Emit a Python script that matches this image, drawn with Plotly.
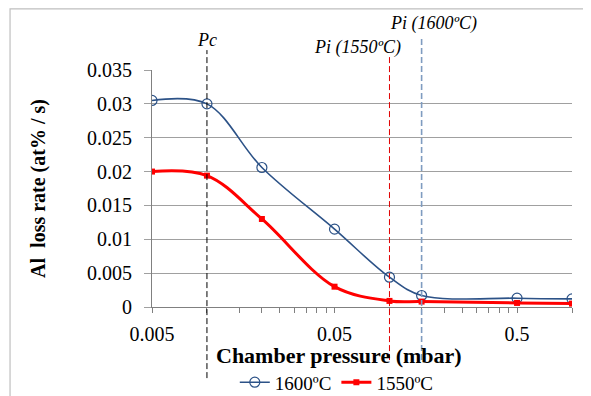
import plotly.graph_objects as go
import math

# Data
pressure = [0.005, 0.01, 0.02, 0.05, 0.1, 0.15, 0.5, 1.0]
rate_1600 = [0.0305, 0.0300, 0.0206, 0.0115, 0.0044, 0.0017, 0.0013, 0.0012]
rate_1550 = [0.0200, 0.0194, 0.0130, 0.0030, 0.0009, 0.0008, 0.0006, 0.0005]

x_tickvals = [0.005, 0.05, 0.5]
x_ticktext = ["0.005", "0.05", "0.5"]
x_minor = [0.005 * k for k in range(2, 10)] + [0.05 * k for k in range(2, 10)] + [0.5 * k for k in range(2, 3)]
y_tickvals = [0, 0.005, 0.01, 0.015, 0.02, 0.025, 0.03, 0.035]
y_ticktext = ["0", "0.005", "0.01", "0.015", "0.02", "0.025", "0.03", "0.035"]

p_c = 0.01
p_i_1550 = 0.1
p_i_1600 = 0.15

FONT = "Liberation Serif"
BLUE = "#2C5287"
RED = "#FF0000"

fig = go.Figure()
fig.add_trace(go.Scatter(
    x=pressure, y=rate_1600, name="1600ºC", mode="lines+markers",
    line=dict(color=BLUE, width=1.6, shape="spline", smoothing=1.0),
    marker=dict(symbol="circle-open", size=10, color=BLUE, line=dict(width=1.2)),
))
fig.add_trace(go.Scatter(
    x=pressure, y=rate_1550, name="1550ºC", mode="lines+markers",
    line=dict(color=RED, width=3, shape="spline", smoothing=1.0),
    marker=dict(symbol="square", size=6, color=RED),
))

# vertical reference lines
vlines = [(p_c, "black", 1.0, 1.084), (p_i_1550, "#E00000", 1.0, 1.055), (p_i_1600, "#7F9CC0", 1.6, 1.139)]
for xv, col, w, ytop in vlines:
    fig.add_shape(type="line", xref="x", yref="paper", x0=xv, x1=xv, y0=-0.30, y1=ytop,
                  line=dict(color=col, width=w, dash="6px,3px"), layer="above")

# outer border
fig.add_shape(type="rect", xref="paper", yref="paper", x0=-0.338, x1=1.1, y0=-0.45, y1=1.258,
              line=dict(color="#BFBFBF", width=1.2))

ann_font = dict(family=FONT, size=18, color="black")
fig.add_annotation(x=math.log10(p_c), y=1.127, xref="x", yref="paper", text="<i>Pc</i>",
                   showarrow=False, font=ann_font, yanchor="middle")
fig.add_annotation(x=-1.175, y=1.097, xref="x", yref="paper", text="<i>Pi (1550ºC)</i>",
                   showarrow=False, font=ann_font, yanchor="middle")
fig.add_annotation(x=-0.757, y=1.198, xref="x", yref="paper", text="<i>Pi (1600ºC)</i>",
                   showarrow=False, font=ann_font, yanchor="middle")
# x-axis title
fig.add_annotation(x=0.445, y=-0.204, xref="paper", yref="paper", text="<b>Chamber pressure (mbar)</b>",
                   showarrow=False, font=dict(family=FONT, size=22, color="black"),
                   xanchor="center", yanchor="middle")

fig.update_layout(
    width=583, height=388,
    margin=dict(l=144, r=19, t=62, b=89, autoexpand=False),
    paper_bgcolor="white", plot_bgcolor="white",
    font=dict(family=FONT, size=20, color="black"),
    showlegend=True,
    legend=dict(orientation="h", x=0.44, xanchor="center", y=-0.318, yanchor="middle",
                font=dict(family=FONT, size=19, color="black"), itemwidth=30, tracegroupgap=0),
)
fig.update_xaxes(
    type="log", range=[math.log10(0.005), 0.0], automargin=False,
    tickmode="array", tickvals=x_tickvals, ticktext=x_ticktext,
    tickfont=dict(family=FONT, size=20, color="black"),
    ticks="outside", ticklen=5, tickcolor="#808080", ticklabelstandoff=4,
    showgrid=False, showline=True, linecolor="#808080", linewidth=1,
    minor=dict(tickmode="array", tickvals=x_minor, ticks="outside", ticklen=5, tickcolor="#808080", showgrid=False),
    zeroline=False,
)
fig.update_yaxes(
    range=[0, 0.035], automargin=False, tickmode="array", tickvals=y_tickvals, ticktext=y_ticktext,
    tickfont=dict(family=FONT, size=20, color="black"),
    ticks="outside", ticklen=7, tickcolor="#A0A0A0", ticklabelstandoff=8,
    showgrid=True, gridcolor="#A0A0A0", gridwidth=1,
    showline=True, linecolor="#808080", linewidth=1, zeroline=False,
    title=dict(text="<b>Al\u00a0 loss rate (at% / s)</b>", font=dict(family=FONT, size=20, color="black"), standoff=36),
)

fig.write_html("out.html")
